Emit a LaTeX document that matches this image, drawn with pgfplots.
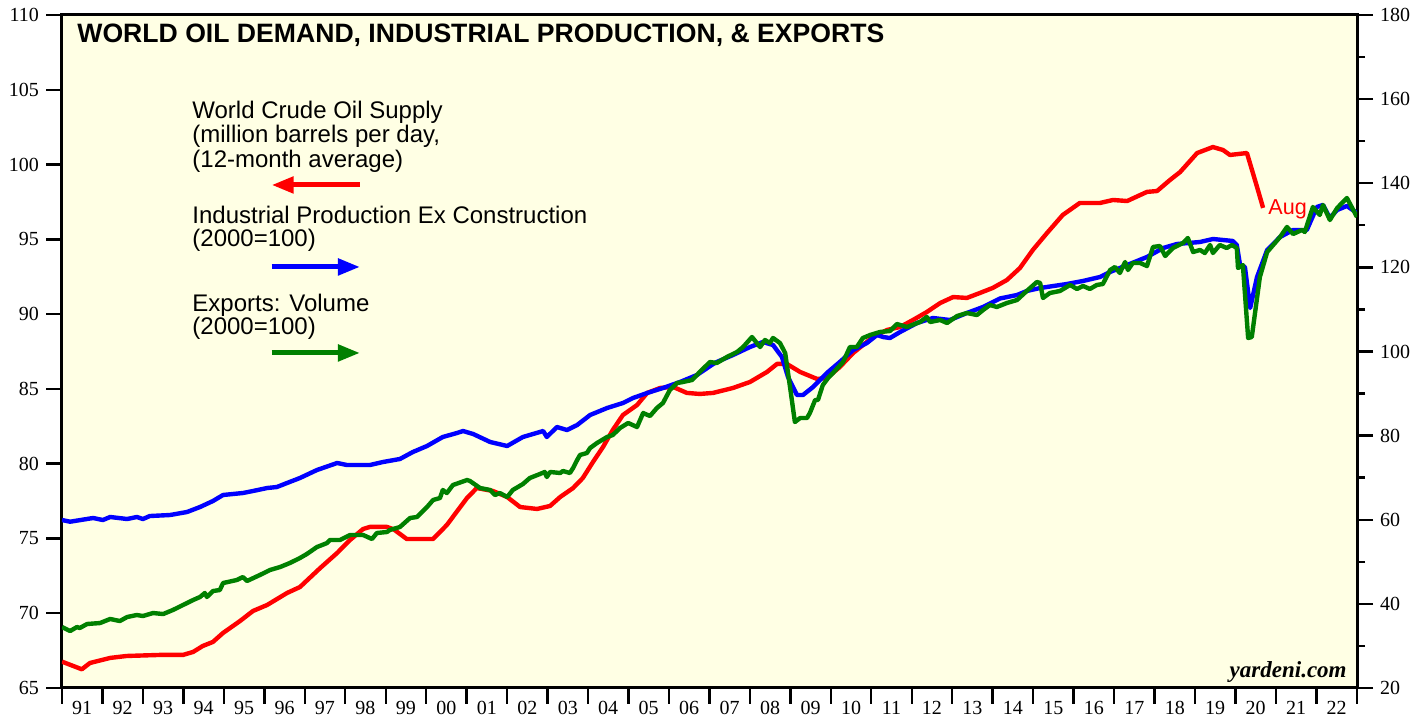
\documentclass[border=0pt]{standalone}
\usepackage{pgfplots}
\pgfplotsset{compat=1.18}
\usepackage{fontspec}
\setmainfont{Liberation Serif}
\newfontfamily\arial{Liberation Sans}
\usetikzlibrary{arrows.meta}
\definecolor{bgyellow}{RGB}{255,255,228}
\definecolor{dgreen}{RGB}{0,128,0}
\begin{document}
\begin{tikzpicture}
\begin{axis}[
  name=main,
  scale only axis, width=647.5pt, height=336.5pt,
  xmin=1991, xmax=2023, ymin=65, ymax=110,
  axis background/.style={fill=bgyellow},
  axis line style={line width=1.5pt},
  tick align=outside, major tick length=8pt,
  tick style={black, line width=1.2pt},
  xtick={1991,...,2023},
  xticklabels={91,92,93,94,95,96,97,98,99,00,01,02,03,04,05,06,07,08,09,10,11,12,13,14,15,16,17,18,19,20,21,22,{}},
  xticklabel style={xshift=10.1pt, yshift=5pt},
  xtick pos=bottom, ytick pos=left,
  ytick={65,70,...,110},
  /pgf/number format/assume math mode=true,
  ticklabel style={font=\fontsize{10}{12}\selectfont},
  clip=true,
]
\addplot[red, line width=2.2pt, line join=round] coordinates {
(1991.00,66.76)(1991.49,66.25)(1991.69,66.67)(1992.19,67.01)(1992.60,67.14)(1993.42,67.21)(1993.99,67.21)(1994.24,67.41)(1994.48,67.81)(1994.73,68.08)(1994.98,68.68)(1995.40,69.48)(1995.72,70.15)(1996.07,70.55)(1996.56,71.35)(1996.88,71.75)(1997.38,73.02)(1997.80,74.03)(1998.12,74.90)(1998.44,75.63)(1998.61,75.77)(1999.03,75.77)(1999.20,75.6)(1999.52,74.96)(2000.17,74.96)(2000.51,75.90)(2001.01,77.71)(2001.25,78.37)(2001.65,78.17)(2002.00,77.77)(2002.32,77.10)(2002.74,76.97)(2003.06,77.17)(2003.31,77.77)(2003.63,78.37)(2003.87,79.04)(2004.12,80.11)(2004.37,81.12)(2004.61,82.25)(2004.86,83.25)(2005.21,83.92)(2005.46,84.73)(2005.78,85.06)(2006.10,85.13)(2006.44,84.73)(2006.76,84.66)(2007.09,84.73)(2007.58,85.06)(2008.00,85.46)(2008.42,86.13)(2008.67,86.67)(2008.91,86.67)(2009.24,86.13)(2009.66,85.66)(2009.90,85.73)(2010.22,86.46)(2010.55,87.40)(2011.04,88.47)(2011.39,88.94)(2011.71,89.14)(2012.03,89.61)(2012.37,90.14)(2012.70,90.74)(2013.02,91.14)(2013.36,91.08)(2013.68,91.41)(2014.00,91.75)(2014.35,92.28)(2014.67,93.08)(2014.99,94.29)(2015.34,95.42)(2015.73,96.63)(2016.15,97.43)(2016.65,97.43)(2016.97,97.63)(2017.32,97.56)(2017.81,98.17)(2018.06,98.23)(2018.38,98.97)(2018.63,99.50)(2019.05,100.77)(2019.44,101.17)(2019.69,100.97)(2019.86,100.64)(2020.28,100.77)(2020.53,98.50)(2020.68,97.10)
};
\node[anchor=base west, inner sep=0pt, font=\arial\bfseries\fontsize{13.3}{15}\selectfont] at (rel axis cs:0.0116,0.9584) {WORLD OIL DEMAND, INDUSTRIAL PRODUCTION, \& EXPORTS};
\begin{scope}[every node/.style={anchor=base west, inner sep=0pt, font=\arial\fontsize{12}{13}\selectfont}]
\node at (rel axis cs:0.1004,0.8455) {World Crude Oil Supply};
\node at (rel axis cs:0.1004,0.8098) {(million barrels per day,};
\node at (rel axis cs:0.1004,0.7741) {(12-month average)};
\node at (rel axis cs:0.1004,0.6909) {Industrial Production Ex Construction};
\node at (rel axis cs:0.1004,0.6553) {(2000=100)};
\node at (rel axis cs:0.1004,0.5587) {Exports: Volume};
\node at (rel axis cs:0.1004,0.5245) {(2000=100)};
\end{scope}
\node[anchor=base west, inner sep=0pt, text=red, font=\arial\fontsize{10.8}{12}\selectfont] at (rel axis cs:0.9313,0.7028) {Aug};
\draw[red, line width=2.5pt, -{Triangle[length=11pt,width=8pt]}] (rel axis cs:0.2301,0.7474) -- (rel axis cs:0.1619,0.7474);
\draw[blue, line width=2.5pt, -{Triangle[length=11pt,width=8pt]}] (rel axis cs:0.1619,0.6256) -- (rel axis cs:0.2301,0.6256);
\draw[dgreen, line width=2.5pt, -{Triangle[length=11pt,width=8pt]}] (rel axis cs:0.1619,0.4978) -- (rel axis cs:0.2301,0.4978);
\node[anchor=base east, inner sep=0pt, font=\bfseries\itshape\fontsize{11.5}{13}\selectfont] at (rel axis cs:0.9923,0.0149) {yardeni.com};
\end{axis}
\begin{axis}[
  scale only axis, width=647.5pt, height=336.5pt,
  xmin=1991, xmax=2023, ymin=20, ymax=180,
  axis x line=none, axis y line*=right,
  axis line style={line width=1.5pt},
  tick align=outside, major tick length=8pt, minor tick length=4pt,
  tick style={black, line width=1.2pt},
  ytick={20,40,...,180}, minor ytick={30,50,...,170},
  /pgf/number format/assume math mode=true,
  ticklabel style={font=\fontsize{10}{12}\selectfont},
]
\addplot[blue, line width=2.2pt, line join=round] coordinates {
(1991.00,59.93)(1991.20,59.53)(1991.77,60.41)(1992.01,59.93)(1992.19,60.65)(1992.61,60.17)(1992.85,60.65)(1993.00,60.17)(1993.17,60.88)(1993.67,61.12)(1994.09,61.84)(1994.41,63.02)(1994.73,64.45)(1994.98,65.88)(1995.47,66.35)(1995.72,66.83)(1996.07,67.54)(1996.31,67.78)(1996.56,68.73)(1996.88,69.92)(1997.30,71.82)(1997.80,73.49)(1998.04,73.01)(1998.61,73.01)(1998.93,73.72)(1999.35,74.44)(1999.67,76.10)(2000.02,77.53)(2000.41,79.67)(2000.76,80.62)(2000.91,81.09)(2001.16,80.38)(2001.58,78.48)(2002.00,77.53)(2002.39,79.67)(2002.89,81.09)(2002.98,79.67)(2003.23,82.04)(2003.48,81.33)(2003.73,82.52)(2004.05,84.90)(2004.47,86.56)(2004.86,87.75)(2005.11,88.94)(2005.46,90.13)(2005.85,91.32)(2006.27,92.74)(2006.69,94.41)(2007.09,97.02)(2007.18,97.50)(2007.58,99.16)(2008.00,101.06)(2008.32,102.25)(2008.57,101.54)(2008.79,98.69)(2008.94,93.93)(2009.16,89.65)(2009.31,89.65)(2009.56,91.56)(2009.90,94.88)(2010.22,97.50)(2010.55,100.35)(2010.89,102.02)(2011.14,103.92)(2011.29,103.44)(2011.46,103.20)(2011.71,104.63)(2012.13,106.77)(2012.52,107.96)(2012.94,107.48)(2013.36,109.15)(2013.76,110.58)(2014.18,112.60)(2014.60,113.43)(2014.84,114.38)(2015.17,115.09)(2015.83,116.04)(2016.23,116.76)(2016.65,117.71)(2016.90,118.90)(2017.32,120.56)(2017.81,122.46)(2018.21,124.60)(2018.55,125.55)(2019.12,126.03)(2019.44,126.74)(2019.93,126.27)(2020.03,125.32)(2020.11,120.56)(2020.23,120.09)(2020.36,110.34)(2020.53,117.71)(2020.78,124.13)(2021.10,127.22)(2021.42,128.88)(2021.76,128.88)(2022.01,134.35)(2022.16,134.83)(2022.33,131.74)(2022.51,133.64)(2022.75,134.59)(2023.00,132.92)
};
\addplot[dgreen, line width=2.2pt, line join=round] coordinates {
(1991.00,34.49)(1991.20,33.54)(1991.37,34.49)(1991.44,34.26)(1991.62,35.21)(1991.94,35.44)(1992.19,36.40)(1992.43,35.92)(1992.61,36.87)(1992.85,37.35)(1993.00,37.11)(1993.25,37.82)(1993.50,37.58)(1993.74,38.54)(1993.99,39.72)(1994.24,40.91)(1994.41,41.63)(1994.53,42.58)(1994.58,41.63)(1994.73,43.05)(1994.90,43.29)(1994.98,44.95)(1995.32,45.67)(1995.47,46.38)(1995.57,45.43)(1995.89,46.86)(1996.14,48.05)(1996.39,48.76)(1996.63,49.71)(1996.88,50.90)(1997.05,51.85)(1997.30,53.51)(1997.55,54.46)(1997.62,55.18)(1997.87,55.18)(1998.12,56.37)(1998.44,56.37)(1998.66,55.42)(1998.78,56.84)(1999.03,57.08)(1999.10,57.56)(1999.35,58.27)(1999.60,60.41)(1999.77,60.65)(2000.02,63.02)(2000.17,64.69)(2000.34,65.16)(2000.41,67.07)(2000.51,66.35)(2000.66,68.25)(2001.01,69.44)(2001.08,69.21)(2001.33,67.54)(2001.58,67.07)(2001.70,65.88)(2001.82,66.35)(2002.00,65.40)(2002.14,67.07)(2002.39,68.49)(2002.56,69.92)(2002.81,70.87)(2002.93,71.35)(2002.98,70.16)(2003.06,71.35)(2003.31,71.11)(2003.38,71.58)(2003.55,71.11)(2003.63,72.30)(2003.73,74.20)(2003.80,75.39)(2003.97,75.86)(2004.05,77.05)(2004.22,78.24)(2004.47,79.67)(2004.61,80.14)(2004.79,81.81)(2004.99,83.00)(2005.21,82.04)(2005.36,85.37)(2005.53,84.66)(2005.70,86.56)(2005.85,87.75)(2006.02,90.84)(2006.20,92.51)(2006.34,92.74)(2006.57,93.22)(2006.76,95.12)(2007.01,97.50)(2007.18,97.26)(2007.43,98.69)(2007.68,99.88)(2007.83,101.06)(2008.05,103.44)(2008.25,101.06)(2008.37,102.73)(2008.49,102.02)(2008.57,103.21)(2008.74,102.02)(2008.87,99.64)(2008.99,91.56)(2009.11,83.23)(2009.24,84.18)(2009.41,84.18)(2009.48,85.37)(2009.61,88.46)(2009.68,88.46)(2009.80,92.03)(2009.93,93.69)(2010.05,94.88)(2010.30,97.50)(2010.47,101.06)(2010.64,101.06)(2010.79,103.20)(2010.97,103.92)(2011.21,104.63)(2011.46,104.87)(2011.63,106.53)(2011.88,105.82)(2012.20,107.01)(2012.37,108.20)(2012.45,107.01)(2012.70,107.48)(2012.87,106.77)(2013.12,108.44)(2013.36,109.15)(2013.61,108.67)(2013.76,109.86)(2013.93,111.05)(2014.10,110.58)(2014.35,111.53)(2014.60,112.24)(2014.84,114.38)(2015.09,116.52)(2015.17,116.28)(2015.24,112.72)(2015.41,113.90)(2015.66,114.38)(2015.91,115.81)(2016.08,114.86)(2016.23,115.57)(2016.40,114.86)(2016.57,115.81)(2016.72,116.04)(2016.90,119.37)(2017.02,120.09)(2017.14,118.66)(2017.27,121.27)(2017.34,119.37)(2017.46,121.04)(2017.64,121.04)(2017.81,120.32)(2017.96,124.84)(2018.13,125.08)(2018.26,122.70)(2018.45,124.60)(2018.70,125.79)(2018.82,126.98)(2018.95,123.65)(2019.12,124.13)(2019.24,123.41)(2019.37,125.32)(2019.44,123.41)(2019.61,125.32)(2019.78,124.60)(2019.91,125.32)(2020.03,124.60)(2020.06,119.85)(2020.18,120.56)(2020.31,103.20)(2020.40,103.44)(2020.60,117.71)(2020.78,123.65)(2021.10,127.22)(2021.27,129.60)(2021.42,127.93)(2021.64,128.88)(2021.71,128.41)(2021.91,134.35)(2022.08,132.45)(2022.16,134.83)(2022.33,131.26)(2022.51,134.11)(2022.75,136.49)(2023.00,131.97)
};
\end{axis}
\pgfresetboundingbox
\path[use as bounding box] ([shift={(-31pt,-15.5pt)}]main.south west) rectangle ([shift={(35pt,7.5pt)}]main.north east);
\end{tikzpicture}
\end{document}
